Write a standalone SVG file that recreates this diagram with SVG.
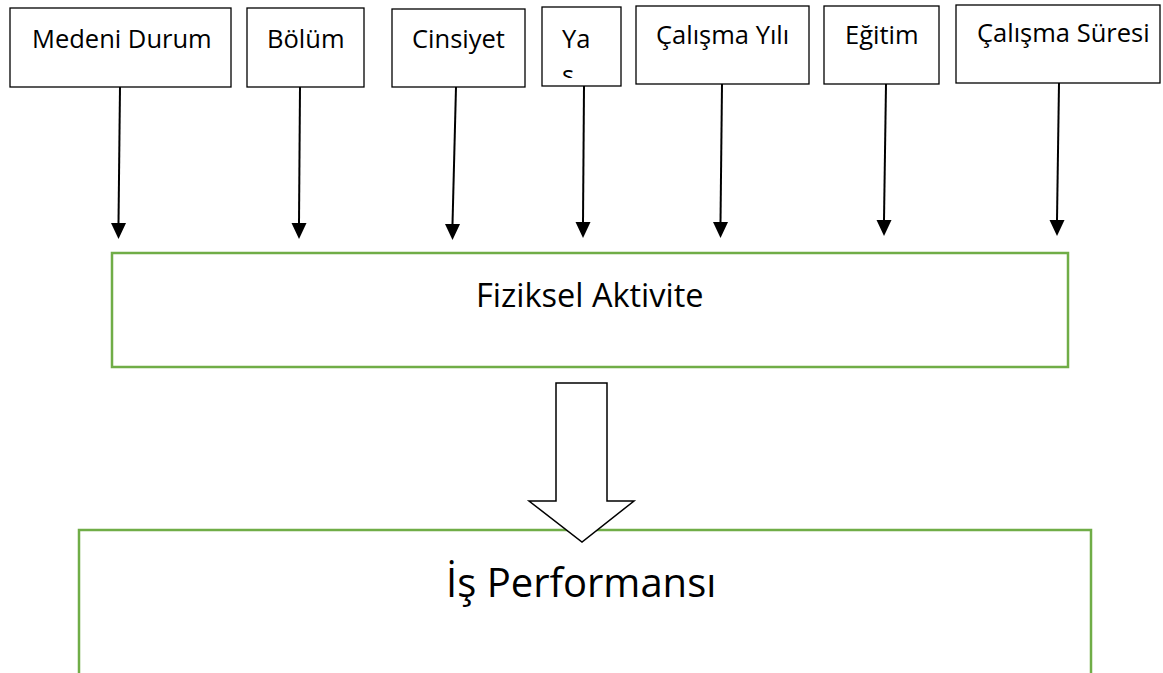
<svg xmlns="http://www.w3.org/2000/svg" width="1163" height="673" viewBox="0 0 1163 673">
<style>
.box{fill:#fff;stroke:#000;stroke-width:1.3}
.gbox{fill:#fff;stroke:#70AD47;stroke-width:2.5}
.t{font-family:"Open Sans","Noto Sans",sans-serif;fill:#000}
.s{font-size:25.5px}
.conn{stroke:#000;stroke-width:2;fill:none}
</style>
<defs>
<clipPath id="yaclip"><rect x="542" y="7" width="79" height="71"/></clipPath>
</defs>
<rect width="1163" height="673" fill="#fff"/>
<g id="n-medeni"><rect class="box" x="10" y="8" width="221" height="79"/><text class="t s" x="32" y="48">Medeni Durum</text></g>
<g id="n-bolum"><rect class="box" x="247" y="8" width="117" height="79"/><text class="t s" x="267" y="48">Bölüm</text></g>
<g id="n-cinsiyet"><rect class="box" x="392" y="9" width="133" height="78"/><text class="t s" x="412" y="48">Cinsiyet</text></g>
<g id="n-yas"><rect class="box" x="542" y="7" width="79" height="79"/><g clip-path="url(#yaclip)"><text class="t s" x="562" y="48">Ya</text><text class="t s" x="562" y="84">s</text></g></g>
<g id="n-calismayili"><rect class="box" x="636" y="6" width="173" height="78"/><text class="t s" x="656" y="44">Çalışma Yılı</text></g>
<g id="n-egitim"><rect class="box" x="824" y="6" width="115" height="78"/><text class="t s" x="845" y="44">Eğitim</text></g>
<g id="n-calismasuresi"><rect class="box" x="956" y="5" width="204" height="78"/><text class="t s" x="977" y="42">Çalışma Süresi</text></g>
<g id="n-fiziksel"><rect class="gbox" x="112" y="253" width="956" height="114"/><text class="t" font-size="32.5" x="476" y="307">Fiziksel Aktivite</text></g>
<g id="n-performans"><rect class="gbox" x="79" y="530" width="1012" height="160"/><text class="t" font-size="40" x="446" y="597">İş Performansı</text></g>
<g id="connectors">
<g class="conn">
<path d="M120,87 L118.5,223"/>
<path d="M300,87 L299,223"/>
<path d="M456,87 L452.5,224"/>
<path d="M584,86 L583,222"/>
<path d="M722,84 L720.5,222"/>
<path d="M886,84 L884,220"/>
<path d="M1059,83 L1057,220"/>
</g>
<g fill="#000">
<polygon points="111,223 126,223 118.5,239"/>
<polygon points="291.5,223 306.5,223 299,239"/>
<polygon points="445,224 460,224 452.5,240"/>
<polygon points="575.5,222 590.5,222 583,238"/>
<polygon points="713,222 728,222 720.5,238"/>
<polygon points="876.5,220 891.5,220 884,236"/>
<polygon points="1049.5,220 1064.5,220 1057,236"/>
</g>
<polygon id="block-arrow" points="556,383 607,383 607,501 634,501 582,542 529,501 556,501" fill="#fff" stroke="#000" stroke-width="1.5" stroke-linejoin="miter"/>
</g>
</svg>
